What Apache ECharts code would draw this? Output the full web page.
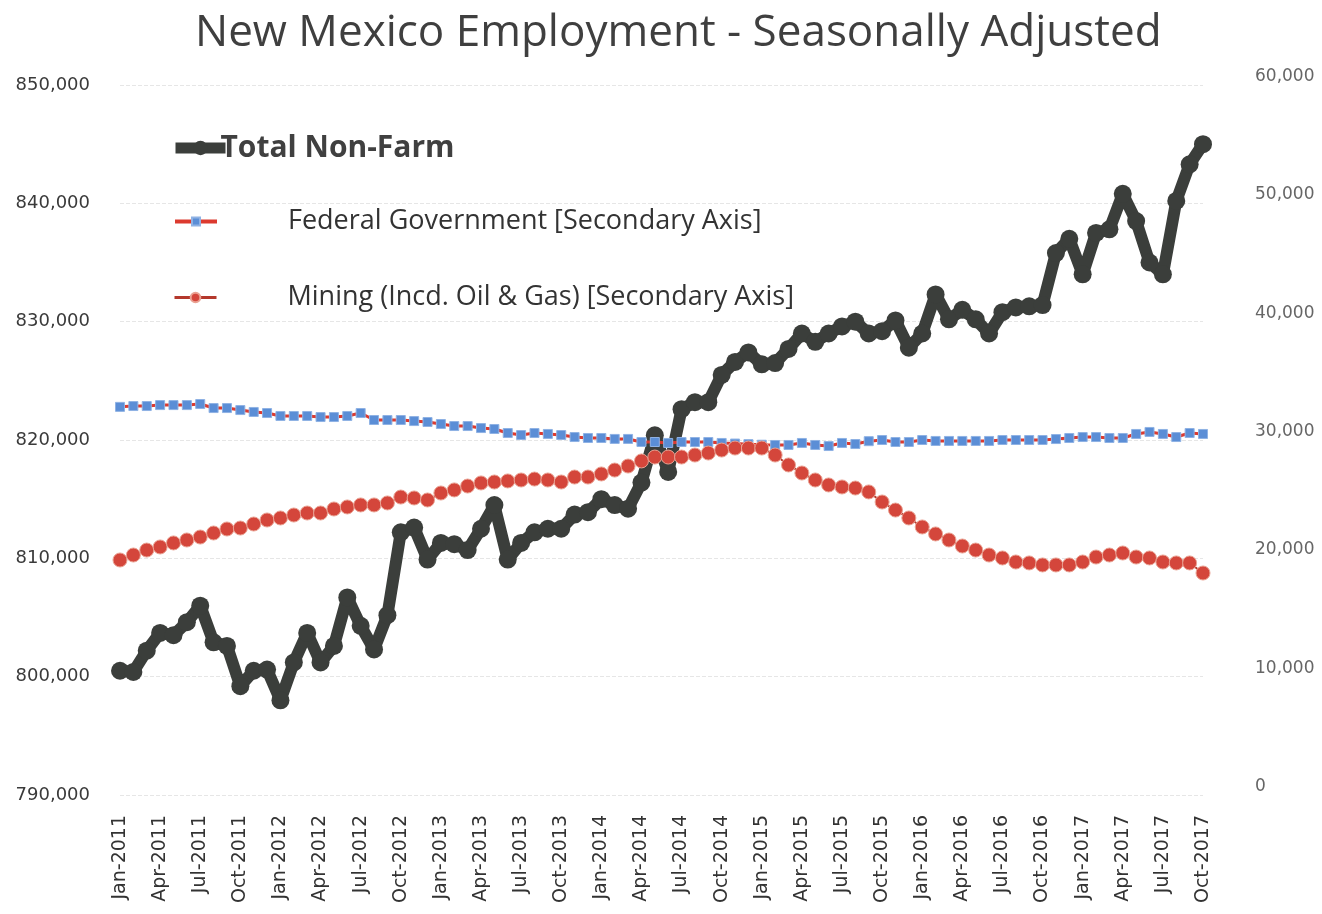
<!DOCTYPE html>
<html>
<head>
<meta charset="utf-8">
<title>New Mexico Employment</title>
<script src="https://cdn.jsdelivr.net/npm/echarts@6/dist/echarts.min.js"></script>
<style>
html, body { margin: 0; padding: 0; background: #fff; }
#main { width: 1322px; height: 914px; }
</style>
</head>
<body>
<div id="main"></div>
<script>
// 月份 / 年份 (Jan-2011 .. Oct-2017)
var monthNames = ['Jan','Feb','Mar','Apr','May','Jun','Jul','Aug','Sep','Oct','Nov','Dec'];
var years = [2011, 2012, 2013, 2014, 2015, 2016, 2017];
var lastMonthIndex = 9; // Oct-2017

// Total Non-Farm (左轴)
var totalNonFarm = [
    800500, 800400, 802200, 803700, 803500, 804600, 806000, 802900, 802600, 799200, 800500, 800600,
    798000, 801200, 803700, 801200, 802600, 806700, 804300, 802300, 805200, 812200, 812600, 809900,
    811300, 811200, 810700, 812500, 814500, 809900, 811300, 812200, 812500, 812500, 813700, 813900,
    815000, 814500, 814200, 816400, 820400, 817300, 822600, 823200, 823200, 825500, 826600, 827400,
    826400, 826500, 827700, 829000, 828300, 829000, 829600, 830000, 829000, 829200, 830100, 827800,
    829000, 832300, 830200, 831000, 830200, 829000, 830800, 831200, 831300, 831400, 835800, 837000,
    834000, 837500, 837800, 840800, 838500, 835000, 834000, 840200, 843300, 845000
];
// Federal Government (右轴)
var federalGov = [
    32800, 32870, 32870, 32950, 32950, 32950, 33040, 32700, 32700, 32530, 32370, 32280,
    32030, 32030, 32030, 31940, 31940, 32030, 32280, 31690, 31690, 31690, 31600, 31520,
    31350, 31180, 31180, 31010, 30930, 30590, 30420, 30590, 30510, 30420, 30250, 30170,
    30170, 30090, 30090, 29830, 29830, 29750, 29830, 29830, 29830, 29750, 29700, 29650,
    29600, 29580, 29580, 29750, 29580, 29490, 29750, 29660, 29900, 30000, 29830, 29830,
    30000, 29920, 29920, 29920, 29920, 29920, 30000, 30000, 30000, 30000, 30080, 30170,
    30250, 30250, 30170, 30170, 30510, 30680, 30510, 30250, 30590, 30510
];
// Mining (Incd. Oil & Gas) (右轴)
var mining = [
    19860, 20280, 20700, 20960, 21300, 21550, 21800, 22140, 22480, 22560, 22900, 23240,
    23410, 23660, 23830, 23830, 24170, 24340, 24510, 24510, 24680, 25180, 25100, 24930,
    25520, 25780, 26110, 26370, 26450, 26540, 26620, 26700, 26620, 26450, 26870, 26870,
    27130, 27460, 27800, 28230, 28560, 28560, 28560, 28730, 28900, 29150, 29320, 29320,
    29320, 28730, 27890, 27210, 26620, 26200, 26030, 25940, 25610, 24760, 24080, 23410,
    22650, 22060, 21550, 21040, 20700, 20280, 20030, 19690, 19610, 19440, 19440, 19440,
    19690, 20110, 20280, 20450, 20110, 20030, 19690, 19610, 19610, 18760
];

var categories = [];
for (var y = 0; y < years.length; y++) {
    for (var m = 0; m < 12; m++) {
        if (y === years.length - 1 && m > lastMonthIndex) break;
        categories.push(monthNames[m] + '-' + years[y]);
    }
}

function fmtNum(v) {
    return String(v).replace(/\B(?=(\d{3})+(?!\d))/g, ',');
}

var myChart = echarts.init(document.getElementById('main'));
var option = {
    backgroundColor: '#fff',
    animation: false,
    title: {
        text: 'New Mexico Employment - Seasonally Adjusted',
        left: 190,
        top: 6,
        textStyle: {
            fontFamily: 'Open Sans',
            fontSize: 44,
            fontWeight: 'normal',
            color: '#3f3f3f'
        }
    },
    legend: [
        {
            data: ['Total Non-Farm'],
            left: 165,
            top: 128,
            itemWidth: 50,
            itemHeight: 18,
            lineStyle: {width: 11},
            textStyle: {fontFamily: 'Open Sans', fontSize: 30, fontWeight: 'bold', color: '#404040', padding: [0, 0, 0, -10]}
        },
        {
            data: ['Federal Government [Secondary Axis]'],
            left: 168,
            top: 203,
            itemWidth: 42,
            itemHeight: 10,
            lineStyle: {width: 4},
            textStyle: {fontFamily: 'Open Sans', fontSize: 27, color: '#333', padding: [0, 0, 0, 66]}
        },
        {
            data: ['Mining (Incd. Oil & Gas) [Secondary Axis]'],
            left: 168,
            top: 279,
            itemWidth: 42,
            itemHeight: 12,
            lineStyle: {width: 3},
            textStyle: {fontFamily: 'Open Sans', fontSize: 27, color: '#333', padding: [0, 0, 0, 66]}
        }
    ],
    grid: {
        left: 120,
        right: 119,
        top: 85,
        bottom: 119
    },
    xAxis: {
        type: 'category',
        boundaryGap: false,
        data: categories,
        axisLine: {show: false},
        axisTick: {show: false},
        axisLabel: {
            interval: 2,
            rotate: 90,
            margin: 20,
            fontFamily: 'DejaVu Sans',
            fontSize: 19,
            color: '#333'
        }
    },
    yAxis: [
        {
            type: 'value',
            min: 790000,
            max: 850000,
            interval: 10000,
            axisLine: {show: false},
            axisTick: {show: false},
            axisLabel: {
                margin: 30,
                fontFamily: 'DejaVu Sans',
                fontSize: 18,
                color: '#3a3a3a',
                formatter: fmtNum
            },
            splitLine: {
                lineStyle: {color: '#e6e6e6', type: 'dashed', width: 1}
            }
        },
        {
            type: 'value',
            min: 0,
            max: 60000,
            interval: 10000,
            axisLine: {show: false},
            axisTick: {show: false},
            splitLine: {show: false},
            axisLabel: {
                margin: 52,
                align: 'left',
                verticalAlign: 'bottom',
                fontFamily: 'DejaVu Sans',
                fontSize: 17,
                color: '#666',
                formatter: fmtNum
            }
        }
    ],
    series: [
        {
            name: 'Total Non-Farm',
            type: 'line',
            yAxisIndex: 0,
            data: totalNonFarm,
            symbol: 'circle',
            symbolSize: 18,
            showAllSymbol: true,
            z: 2,
            lineStyle: {color: '#3b3e3b', width: 12},
            itemStyle: {color: '#3b3e3b'}
        },
        {
            name: 'Federal Government [Secondary Axis]',
            type: 'line',
            yAxisIndex: 1,
            data: federalGov,
            symbol: 'rect',
            symbolSize: 9,
            showAllSymbol: true,
            z: 3,
            lineStyle: {color: '#dc3a2f', width: 3},
            itemStyle: {color: '#5b8ed6', borderColor: '#8fb2e4', borderWidth: 1}
        },
        {
            name: 'Mining (Incd. Oil & Gas) [Secondary Axis]',
            type: 'line',
            yAxisIndex: 1,
            data: mining,
            symbol: 'circle',
            symbolSize: 14,
            showAllSymbol: true,
            z: 4,
            lineStyle: {color: '#b4382c', width: 2},
            itemStyle: {color: '#d4463b', borderColor: '#eaa293', borderWidth: 1}
        }
    ]
};
myChart.setOption(option, true);
</script>
</body>
</html>
